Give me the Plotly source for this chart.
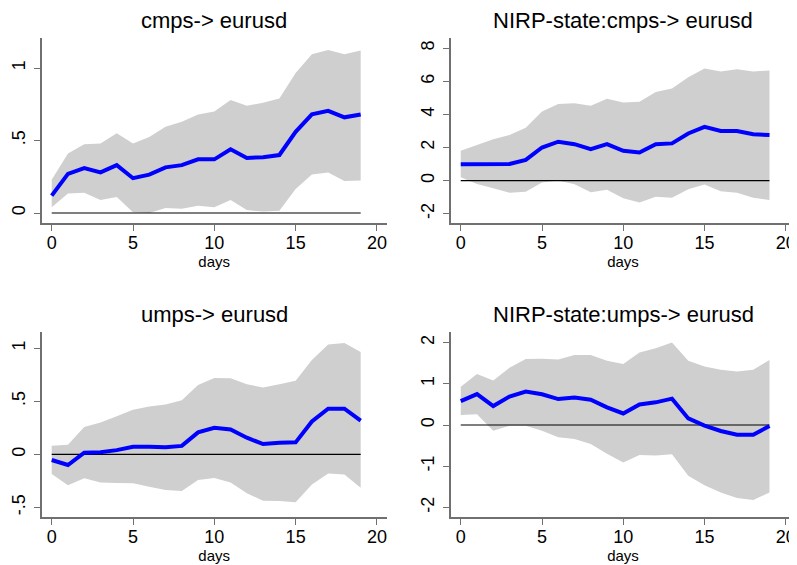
import plotly.graph_objects as go

days = list(range(20))

# Panel 1: cmps-> eurusd
p1_title = "cmps-> eurusd"
p1_irf = [0.12, 0.27, 0.31, 0.28, 0.33, 0.24, 0.265, 0.315, 0.33, 0.37,
          0.37, 0.44, 0.38, 0.385, 0.40, 0.56, 0.68, 0.705, 0.66, 0.68]
p1_upper = [0.23, 0.41, 0.475, 0.48, 0.55, 0.48, 0.525, 0.595, 0.63, 0.68,
            0.70, 0.78, 0.74, 0.76, 0.79, 0.965, 1.095, 1.125, 1.095, 1.12]
p1_lower = [0.04, 0.135, 0.14, 0.09, 0.11, 0.005, 0.0, 0.035, 0.03, 0.05,
            0.04, 0.09, 0.02, 0.01, 0.015, 0.165, 0.265, 0.28, 0.22, 0.225]
p1_ticks = [0, 0.5, 1]
p1_ticklabels = ["0", ".5", "1"]

# Panel 2: NIRP-state:cmps-> eurusd
p2_title = "NIRP-state:cmps-> eurusd"
p2_irf = [0.99, 0.99, 1.05, 1.0, 1.25, 2.0, 2.35, 2.2, 1.9, 2.2,
          1.8, 1.7, 2.2, 2.25, 2.85, 3.25, 3.0, 3.0, 2.8, 2.75]
p2_upper = [1.8, 2.15, 2.5, 2.75, 3.2, 4.17, 4.63, 4.68, 4.52, 4.94,
            4.72, 4.76, 5.36, 5.56, 6.25, 6.77, 6.6, 6.73, 6.6, 6.65]
p2_lower = [0.2, -0.2, -0.46, -0.73, -0.67, -0.12, 0.0, -0.22, -0.7, -0.56,
            -1.07, -1.33, -0.97, -1.03, -0.52, -0.24, -0.65, -0.73, -1.03, -1.17]
p2_ticks = [-2, 0, 2, 4, 6, 8]
p2_ticklabels = ["-2", "0", "2", "4", "6", "8"]

# Panel 3: umps-> eurusd
p3_title = "umps-> eurusd"
p3_irf = [-0.053, -0.10, 0.016, 0.02, 0.04, 0.072, 0.072, 0.066, 0.08, 0.207,
          0.25, 0.235, 0.157, 0.097, 0.11, 0.113, 0.31, 0.43, 0.43, 0.317]
p3_upper = [0.082, 0.091, 0.257, 0.30, 0.36, 0.42, 0.45, 0.47, 0.51, 0.653,
            0.72, 0.716, 0.66, 0.63, 0.66, 0.694, 0.89, 1.036, 1.05, 0.964]
p3_lower = [-0.185, -0.29, -0.226, -0.264, -0.27, -0.273, -0.305, -0.336, -0.345, -0.242,
            -0.223, -0.264, -0.367, -0.436, -0.44, -0.452, -0.283, -0.18, -0.19, -0.314]
p3_ticks = [-0.5, 0, 0.5, 1]
p3_ticklabels = ["-.5", "0", ".5", "1"]

# Panel 4: NIRP-state:umps-> eurusd
p4_title = "NIRP-state:umps-> eurusd"
p4_irf = [0.58, 0.75, 0.46, 0.69, 0.81, 0.745, 0.63, 0.67, 0.615, 0.43,
          0.28, 0.50, 0.55, 0.64, 0.16, -0.016, -0.146, -0.235, -0.235, -0.024]
p4_upper = [0.93, 1.24, 1.08, 1.39, 1.60, 1.61, 1.59, 1.70, 1.70, 1.56,
            1.48, 1.76, 1.86, 2.0, 1.56, 1.42, 1.34, 1.30, 1.34, 1.58]
p4_lower = [0.24, 0.26, -0.14, -0.02, -0.02, -0.14, -0.30, -0.34, -0.46, -0.70,
            -0.91, -0.73, -0.74, -0.71, -1.23, -1.46, -1.64, -1.77, -1.82, -1.64]
p4_ticks = [-2, -1, 0, 1, 2]
p4_ticklabels = ["-2", "-1", "0", "1", "2"]

x_ticks = [0, 5, 10, 15, 20]
zero_line = [0] * len(days)

OFF = 8  # default page body margin
W, H = 797 - OFF, 565 - OFF
FONT = "Arial, Liberation Sans, sans-serif"
FILL = "#cfcfcf"
BLUE = "#0000ff"
AXIS = "#707070"


def xd(a, b):
    return [(a - OFF) / W, (b - OFF) / W]


def yd(top, bottom):
    return [1 - (bottom - OFF) / H, 1 - (top - OFF) / H]


panels = [
    dict(title=p1_title, irf=p1_irf, up=p1_upper, lo=p1_lower, tv=p1_ticks, tt=p1_ticklabels,
         xd=xd(41.7, 386.7), yd=yd(38.3, 223.3), xr=[-0.615, 20.6], yr=[-0.071, 1.205]),
    dict(title=p2_title, irf=p2_irf, up=p2_upper, lo=p2_lower, tv=p2_ticks, tt=p2_ticklabels,
         xd=xd(451, 795), yd=yd(38.3, 223.3), xr=[-0.6, 20.57], yr=[-2.58, 8.6]),
    dict(title=p3_title, irf=p3_irf, up=p3_upper, lo=p3_lower, tv=p3_ticks, tt=p3_ticklabels,
         xd=xd(41.7, 386.7), yd=yd(332.3, 517.3), xr=[-0.615, 20.6], yr=[-0.593, 1.15]),
    dict(title=p4_title, irf=p4_irf, up=p4_upper, lo=p4_lower, tv=p4_ticks, tt=p4_ticklabels,
         xd=xd(451, 795), yd=yd(332.3, 517.3), xr=[-0.6, 20.57], yr=[-2.24, 2.25]),
]

fig = go.Figure()
layout = dict(
    width=W, height=H,
    margin=dict(l=0, r=0, t=0, b=0),
    paper_bgcolor="white", plot_bgcolor="white",
    showlegend=False,
    font=dict(family=FONT, color="black"),
)
annotations = []

for i, p in enumerate(panels):
    n = "" if i == 0 else str(i + 1)
    xa, ya = "x" + n, "y" + n
    fig.add_trace(go.Scatter(x=days, y=p["lo"], mode="lines", line=dict(width=0, color=FILL),
                             xaxis=xa, yaxis=ya, hoverinfo="skip"))
    fig.add_trace(go.Scatter(x=days, y=p["up"], mode="lines", line=dict(width=0, color=FILL),
                             fill="tonexty", fillcolor=FILL, xaxis=xa, yaxis=ya, hoverinfo="skip"))
    fig.add_trace(go.Scatter(x=days, y=zero_line, mode="lines", line=dict(width=1.2, color="black"),
                             xaxis=xa, yaxis=ya))
    fig.add_trace(go.Scatter(x=days, y=p["irf"], mode="lines", line=dict(width=4, color=BLUE),
                             xaxis=xa, yaxis=ya))
    layout["xaxis" + n] = dict(
        domain=p["xd"], range=p["xr"], anchor=ya,
        tickmode="array", tickvals=x_ticks, ticktext=[str(t) for t in x_ticks],
        ticks="outside", ticklen=6, tickwidth=1.2, tickcolor=AXIS, ticklabelstandoff=-4,
        ticklabeloverflow="allow",
        showline=True, linecolor=AXIS, linewidth=1.5, showgrid=False, zeroline=False,
        tickfont=dict(size=18, family=FONT, color="black"),
        title=dict(text="days", font=dict(size=15, family=FONT, color="black"), standoff=0),
    )
    layout["yaxis" + n] = dict(
        domain=p["yd"], range=p["yr"], anchor=xa,
        tickmode="array", tickvals=p["tv"], ticktext=p["tt"], tickangle=-90,
        ticks="outside", ticklen=6, tickwidth=1.2, tickcolor=AXIS, ticklabelstandoff=2,
        showline=True, linecolor=AXIS, linewidth=1.5, showgrid=False, zeroline=False,
        tickfont=dict(size=18, family=FONT, color="black"),
    )
    annotations.append(dict(
        text=p["title"], x=(p["xd"][0] + p["xd"][1]) / 2, y=p["yd"][1],
        xref="paper", yref="paper", xanchor="center", yanchor="bottom",
        yshift=3, showarrow=False, font=dict(size=22, family=FONT, color="black"),
    ))

layout["annotations"] = annotations
fig.update_layout(**layout)
fig.write_html("out.html")
